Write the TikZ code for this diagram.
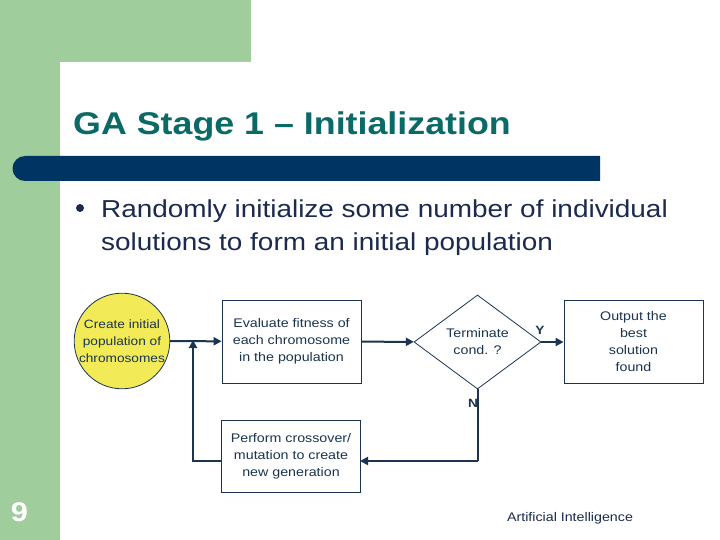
\documentclass[tikz,border=0pt]{standalone}
\usepackage{fontspec}
\setmainfont[FakeStretch=1.14]{Liberation Sans}
\usepackage{tikz}
\usetikzlibrary{shapes.geometric,arrows.meta}
\definecolor{sidegreen}{HTML}{9FCD9C}
\definecolor{barblue}{HTML}{003462}
\definecolor{titleteal}{HTML}{0A6A66}
\definecolor{flowline}{HTML}{1B3550}
\definecolor{chromfill}{HTML}{F2EA56}
\definecolor{body}{HTML}{1B2A4E}
\tikzset{
  flowbox/.style={draw=flowline, line width=0.8pt, fill=white, text=flowline, align=center,
    minimum width=139pt, minimum height=83pt, inner sep=2pt, font=\fontsize{12.5}{17}\selectfont},
  startnode/.style={circle, draw=flowline, line width=0.8pt, fill=chromfill, text=flowline, align=center,
    minimum size=94pt, inner sep=0pt, font=\fontsize{12}{17}\selectfont},
  decide/.style={diamond, draw=flowline, line width=0.8pt, fill=white, text=flowline, align=center,
    minimum width=127pt, minimum height=94pt, inner sep=0pt, font=\fontsize{12.5}{17}\selectfont},
  link/.style={draw=flowline, line width=2pt},
  arr/.style={link, -{Triangle[length=8pt,width=8pt]}},
  yn/.style={text=flowline, font=\fontsize{12}{14}\selectfont\bfseries},
}

\begin{document}
\begin{tikzpicture}[x=1pt, y=-1pt]
  \useasboundingbox (0,0) rectangle (720,540);

  % slide background
  \fill[white] (0,0) rectangle (720,540);
  \fill[sidegreen] (0,0) rectangle (251,62);
  \fill[sidegreen] (0,0) rectangle (60,540);
  \fill[white] (60,540) -- (60,82) arc (180:270:20) -- (251,62) -- (720,62) -- (720,540) -- cycle;

  % title and bar
  \node[anchor=base west, text=titleteal, font=\fontsize{31.4}{36}\selectfont\bfseries, inner sep=0pt]
    (title) at (73,135) {GA Stage 1 -- Initialization};
  \fill[barblue] (600,156) -- (25,156) arc (270:90:12.5) -- (600,181) -- cycle;

  % bullet
  \fill[body] (80,208) circle (4);
  \node[anchor=base west, text=body, font=\fontsize{24.5}{32}\selectfont, inner sep=0pt]
    (line1) at (101,218) {Randomly initialize some number of individual};
  \node[anchor=base west, text=body, font=\fontsize{24.5}{32}\selectfont, inner sep=0pt]
    (line2) at (101,250) {solutions to form an initial population};

  % flowchart
  \node[startnode] (init) at (122,341) {Create initial\\population of\\chromosomes};
  \node[flowbox] (eval) at (291.5,341.5) {Evaluate fitness of\\each chromosome\\in the population};
  \node[decide] (term) at (477.5,342) {Terminate\\cond. ?};
  \node[flowbox] (out) at (633.5,342) {Output the\\best\\solution\\found};
  \node[flowbox, minimum height=72pt] (perf) at (291,456) {Perform crossover/\\mutation to create\\new generation};

  \coordinate (junc) at (193,342);
  \coordinate (loop) at (193,461);
  \coordinate (back) at (477.5,461);
  \coordinate (perfin) at (360,461);
  \coordinate (perfout) at (222,461);

  \draw[arr] (init) -- (eval);
  \draw[arr] (eval) -- (term);
  \draw[arr] (term) -- (out);
  \node[yn] (ylab) at (540,330) {Y};
  \draw[link] (term.south) -- (back);
  \draw[arr] (back) -- (perfin);
  \draw[arr] (perfout) -- (loop) -- ([yshift=2pt]junc);
  \node[yn] (nlab) at (473,403) {N};

  % footer
  \node[text=white, font=\fontsize{27}{30}\selectfont\bfseries] (pagenum) at (19.5,512) {9};
  \node[text=body, font=\fontsize{12.5}{15}\selectfont] (footer) at (570,518) {Artificial Intelligence};
\end{tikzpicture}
\end{document}
